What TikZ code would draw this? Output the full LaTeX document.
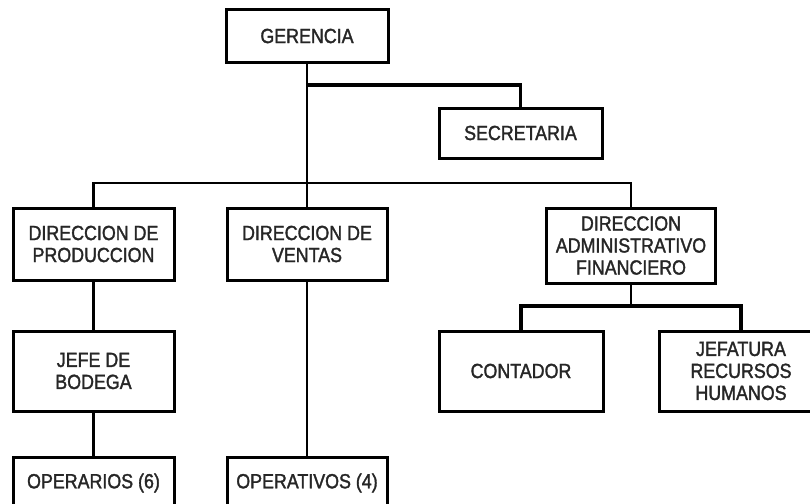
\documentclass[tikz,border=0pt]{standalone}
\usepackage{fontspec}
\setmainfont[FakeStretch=0.87,FakeBold=1.6]{Liberation Sans}
\usetikzlibrary{calc}
\begin{document}
\begin{tikzpicture}[x=1pt,y=-1pt,
  box/.style={draw=black, line width=3pt, fill=white, inner sep=0pt, align=center,
    font=\fontsize{20.5}{22}\selectfont, text=black!85},
  conn/.style={draw=black, line width=2.6pt},
  thick conn/.style={draw=black, line width=3.2pt}]
\useasboundingbox (0,0) rectangle (810,503);
\clip (0,0) rectangle (810,503);
\fill[white] (0,0) rectangle (810,503);
% coordinates
\coordinate (sj) at (307,85);
\coordinate (hy) at (0,183);
\coordinate (ay) at (0,306);
% nodes
\node[box, minimum width=162pt, minimum height=52pt] (g) at (307,36) {GERENCIA};
\node[box, minimum width=163pt, minimum height=50pt] (s) at (520.5,133) {SECRETARIA};
\node[box, minimum width=161pt, minimum height=72pt] (dp) at (93.5,244) {DIRECCION DE\\PRODUCCION};
\node[box, minimum width=160pt, minimum height=72pt] (dv) at (307,244) {DIRECCION DE\\VENTAS};
\node[box, minimum width=169pt, minimum height=75pt] (da) at (631,245.5) {DIRECCION\\ADMINISTRATIVO\\FINANCIERO};
\node[box, minimum width=161pt, minimum height=80pt] (jb) at (93.5,371) {JEFE DE\\BODEGA};
\node[box, minimum width=164pt, minimum height=80pt] (ct) at (521,371) {CONTADOR};
\node[box, minimum width=164pt, minimum height=80pt] (jf) at (741,371) {JEFATURA\\RECURSOS\\HUMANOS};
\node[box, minimum width=161pt, minimum height=52pt] (op) at (93.5,483) {OPERARIOS (6)};
\node[box, minimum width=160pt, minimum height=52pt] (ov) at (307,483) {OPERATIVOS (4)};
% connectors
\draw[thick conn] (g.south |- sj) -| (s.north);
\draw[conn] (g.south) -- (dv.north);
\draw[conn] (dp.north) -- (dp.north |- hy) -- (da.north |- hy) -- (da.north);
\draw[conn] (dp.south) -- (jb.north);
\draw[conn] (jb.south) -- (op.north);
\draw[conn] (dv.south) -- (ov.north);
\draw[conn] (da.south) -- (da.south |- ay);
\draw[thick conn] (ct.north) -- (ct.north |- ay) -- (jf.north |- ay) -- (jf.north);
\end{tikzpicture}
\end{document}
